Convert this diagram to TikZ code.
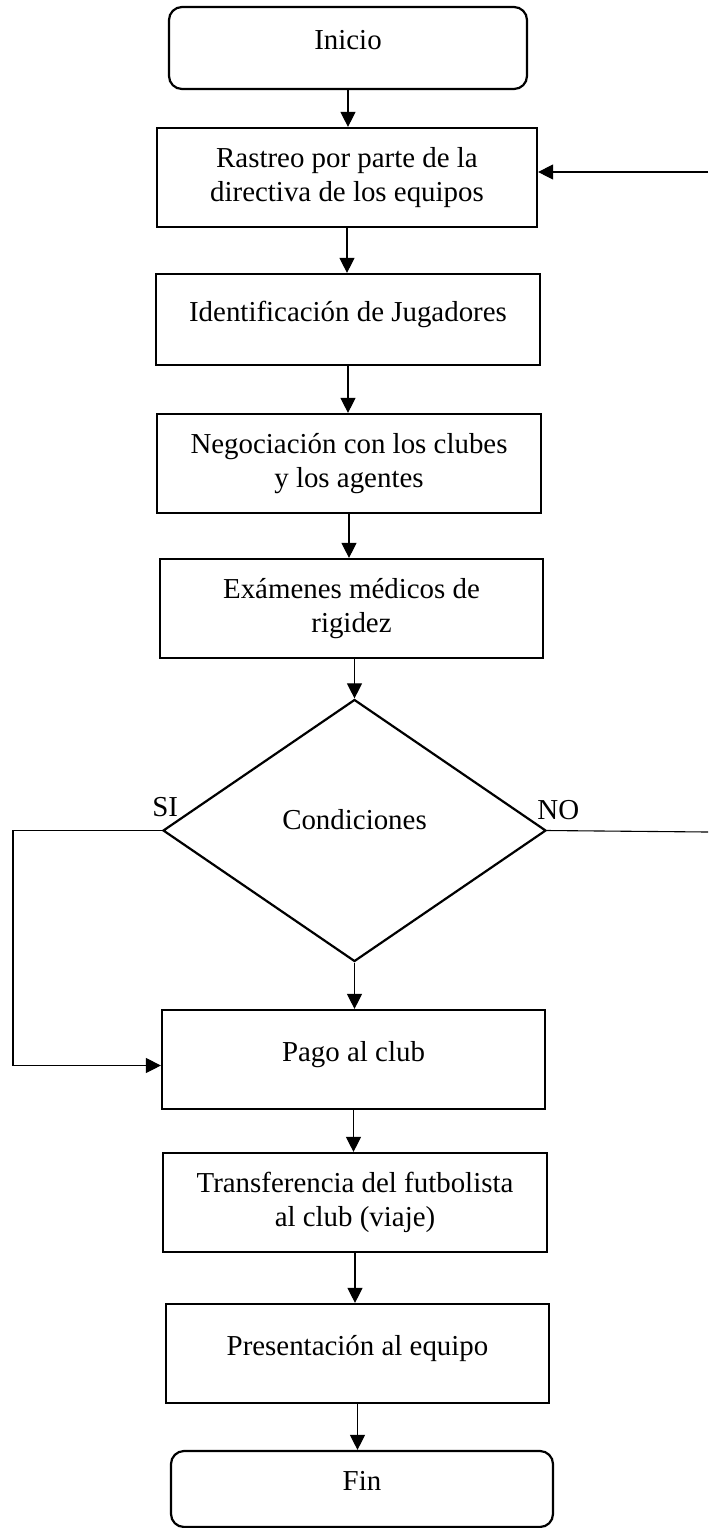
\documentclass[tikz,border=0pt]{standalone}
\usepackage{fontspec}
\setmainfont{Liberation Serif}
\usetikzlibrary{shapes.geometric,arrows.meta}

\begin{document}
\begin{tikzpicture}[x=0.5pt,y=-0.5pt,
box/.style={rectangle, draw=black, line width=1.1pt, inner sep=0pt, align=center},
oneline/.style={text height=0.75em, text depth=0.6em},
terminal/.style={box, rounded corners=6.5pt},
decision/.style={diamond, draw=black, line width=1.1pt, inner sep=0pt, text height=0.75em, text depth=0.85em},
flow/.style={draw=black, line width=0.55pt, -{Triangle[length=7.5pt,width=7.5pt]}},
lead/.style={draw=black, line width=0.55pt}]
\tikzstyle{every node}=[font=\fontsize{14.45}{17}\selectfont]

\useasboundingbox (0,0) rectangle (708,1528);

\node (Inicio) [terminal, oneline, minimum width=179pt, minimum height=41pt] at (348,48) {Inicio};
\node (Rastreo) [box, minimum width=190pt, minimum height=49.5pt] at (347,177.5) {Rastreo por parte de la\\directiva de los equipos};
\node (Ident) [box, oneline, minimum width=192pt, minimum height=45.5pt] at (348,319.5) {Identificación de Jugadores};
\node (Negoc) [box, minimum width=192pt, minimum height=49.5pt] at (349,463.5) {Negociación con los clubes\\y los agentes};
\node (Examen) [box, minimum width=191.5pt, minimum height=49.5pt] at (351.5,608.5) {Exámenes médicos de\\rigidez};
%
\node (Cond) [decision, minimum width=191.5pt, minimum height=131pt] at (354.5,830.5) {Condiciones};
\node (Si) [anchor=base west, inner sep=0pt] at (152,816) {SI};
\node (No) [anchor=base west, inner sep=0pt] at (537,819) {NO};
%
\node (Pago) [box, oneline, minimum width=191.5pt, minimum height=49.5pt] at (353.5,1059.5) {Pago al club};
\node (Transf) [box, minimum width=192pt, minimum height=49.5pt] at (355,1202.5) {Transferencia del futbolista\\al club (viaje)};
\node (Present) [box, oneline, minimum width=191.5pt, minimum height=49.5pt] at (357.5,1353.5) {Presentación al equipo};
\node (Fin) [terminal, oneline, minimum width=191pt, minimum height=38pt] at (362,1489) {Fin};

% main flow
\draw[flow] (Inicio.south) -- (Inicio.south |- Rastreo.north);
\draw[flow] (Rastreo.south) -- (Rastreo.south |- Ident.north);
\draw[flow] (Ident.south) -- (Ident.south |- Negoc.north);
\draw[flow] (Negoc.south) -- (Negoc.south |- Examen.north);
\draw[flow] (Cond.north |- Examen.south) -- (Cond.north);
\draw[flow] (Cond.south) -- (Cond.south |- Pago.north);
\draw[flow] (Pago.south) -- (Pago.south |- Transf.north);
\draw[flow] (Transf.south) -- (Transf.south |- Present.north);
\draw[flow] (Present.south) -- (Present.south |- Fin.north);

% SI branch
\coordinate (SiCorner) at (13,830.5);
\draw[flow] (Cond.west) -- (SiCorner) |- ([yshift=-3pt]Pago.west);

% NO branch, back to Rastreo
\coordinate (NoEnd) at (708,832);
\draw[lead] (Cond.east) -- (NoEnd);
\coordinate (BackIn) at (708,172);
\draw[flow] (BackIn) -- (Rastreo.east |- BackIn);

\end{tikzpicture}
\end{document}
